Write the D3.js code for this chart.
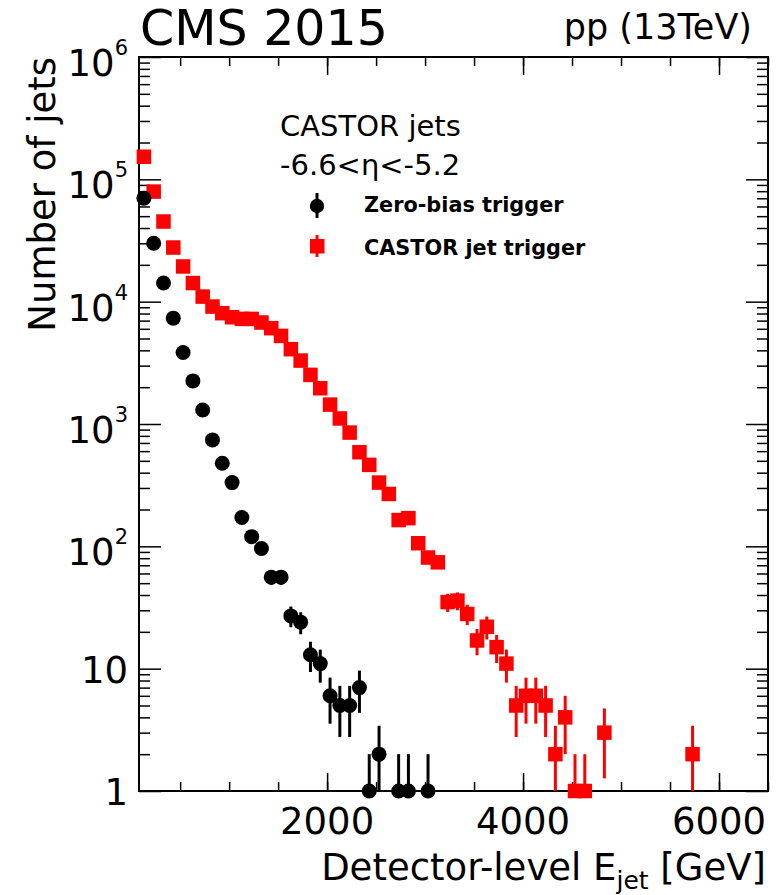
<!DOCTYPE html>
<html>
<head>
<meta charset="utf-8">
<script src="https://cdn.jsdelivr.net/npm/d3@7"></script>
<style>
body { margin: 0; background: #fff; }
svg { display: block; }
text { font-family: "DejaVu Sans", sans-serif; fill: #000; white-space: pre; }
</style>
</head>
<body>
<svg id="chart" width="783" height="895"></svg>
<script>
'use strict';

// zero-bias trigger: bin centres [GeV] and number of jets
var zbEnergy = [130, 230, 330, 430, 530, 630, 730, 830, 930, 1030, 1130, 1230, 1330, 1430, 1530,
	1630, 1730, 1830, 1930, 2030, 2130, 2230, 2330, 2430, 2530, 2730, 2830, 3030];
var zbCounts = [70200, 30000, 14200, 7330, 3840, 2250, 1300, 741, 478, 332, 172, 120, 96, 56, 56,
	27, 24, 13, 11, 6, 5, 5, 7, 1, 2, 1, 1, 1];

// CASTOR jet trigger
var ctEnergy = [130, 230, 330, 430, 530, 630, 730, 830, 930, 1030, 1130, 1230, 1330, 1430, 1530,
	1630, 1730, 1830, 1930, 2030, 2130, 2230, 2330, 2430, 2530, 2630, 2730, 2830, 2930, 3030,
	3130, 3230, 3330, 3430, 3530, 3630, 3730, 3830, 3930, 4030, 4130, 4230, 4330, 4430, 4530,
	4630, 4830, 5730];
var ctCounts = [153000, 79400, 45200, 27700, 19400, 14200, 11000, 9120, 8050, 7460, 7230, 7230, 6750, 6070, 5250,
	4090, 3300, 2520, 1960, 1440, 1110, 851, 588, 463, 332, 268, 164, 170, 106, 81,
	74, 35, 36, 28, 17, 22, 15, 11, 5, 6, 6, 5, 2, 4, 1,
	1, 3, 2];

var xTicks = [2000, 4000, 6000];
var xTickLabels = ['2000', '4000', '6000'];
var yTicks = [1, 10, 100, 1000, 10000, 100000, 1000000];
var yTickBase = ['1', '10', '10', '10', '10', '10', '10'];
var yTickExp = ['', '', '2', '3', '4', '5', '6'];

var padL = 139, padR = 768, padT = 57, padB = 791;

var svg = d3.select('#chart');

var x = d3.scaleLinear().domain([80, 6500]).range([padL, padR]);
var y = d3.scaleLog().domain([1, 1e6]).range([padB, padT]);

var xMinor = d3.range(500, 6501, 500);
var yMinor = [];
for (var d = 0; d < 6; d++) {
	for (var k = 2; k <= 9; k++) yMinor.push(k * Math.pow(10, d));
}

function drawAxis(axis, tx, ty) {
	var g = svg.append('g').attr('transform', 'translate(' + tx + ',' + ty + ')').call(axis);
	g.select('.domain').remove();
	g.selectAll('line').attr('stroke', '#000').attr('stroke-width', 1.5);
	g.selectAll('text').remove();
}

// ticks point inward on all four sides
drawAxis(d3.axisBottom(x).tickValues(xMinor).tickSize(-9), 0, padB);
drawAxis(d3.axisBottom(x).tickValues(xTicks).tickSize(-18), 0, padB);
drawAxis(d3.axisTop(x).tickValues(xMinor).tickSize(-9), 0, padT);
drawAxis(d3.axisTop(x).tickValues(xTicks).tickSize(-18), 0, padT);
drawAxis(d3.axisLeft(y).tickValues(yMinor).tickSize(-11), padL, 0);
drawAxis(d3.axisLeft(y).tickValues(yTicks).tickSize(-22), padL, 0);
drawAxis(d3.axisRight(y).tickValues(yMinor).tickSize(-11), padR, 0);
drawAxis(d3.axisRight(y).tickValues(yTicks).tickSize(-22), padR, 0);

svg.append('rect')
	.attr('x', padL).attr('y', padT)
	.attr('width', padR - padL).attr('height', padB - padT)
	.attr('fill', 'none').attr('stroke', '#000').attr('stroke-width', 2);

// tick labels
xTicks.forEach(function(v, i) {
	svg.append('text')
		.attr('x', x(v)).attr('y', 834)
		.attr('text-anchor', 'middle').attr('font-size', 37)
		.text(xTickLabels[i]);
});

yTicks.forEach(function(v, i) {
	var t = svg.append('text')
		.attr('x', 128)
		.attr('y', y(v) + (yTickExp[i] ? 19 : 14))
		.attr('text-anchor', 'end');
	t.append('tspan').attr('font-size', 37).text(yTickBase[i]);
	if (yTickExp[i]) {
		t.append('tspan').attr('font-size', 21).attr('dy', -21).text(yTickExp[i]);
	}
});

// axis titles
svg.append('text')
	.attr('transform', 'translate(55,' + padT + ') rotate(-90)')
	.attr('text-anchor', 'end').attr('font-size', 37)
	.text('Number of jets');

var xt = svg.append('text')
	.attr('x', 766).attr('y', 880)
	.attr('text-anchor', 'end').attr('font-size', 37);
xt.append('tspan').text('Detector-level E');
xt.append('tspan').attr('font-size', 25).attr('dy', 9).text('jet');
xt.append('tspan').attr('dy', -9).text(' [GeV]');

// header
svg.append('text').attr('x', 140).attr('y', 45).attr('font-size', 49).text('CMS 2015');
svg.append('text').attr('x', 752).attr('y', 39).attr('text-anchor', 'end').attr('font-size', 35).text('pp (13TeV)');

// data
function series(energy, counts) {
	return energy.map(function(e, i) { return { e: e, n: counts[i] }; });
}

function drawErrors(data, color) {
	svg.append('g').selectAll('line').data(data).join('line')
		.attr('x1', function(p) { return x(p.e); })
		.attr('x2', function(p) { return x(p.e); })
		.attr('y1', function(p) {
			var lo = p.n - Math.sqrt(p.n);
			return lo > 1 ? y(lo) : padB;
		})
		.attr('y2', function(p) { return y(p.n + Math.sqrt(p.n)); })
		.attr('stroke', color).attr('stroke-width', 3);
}

var zb = series(zbEnergy, zbCounts);
var ct = series(ctEnergy, ctCounts);

drawErrors(ct, '#ff0000');
svg.append('g').selectAll('rect').data(ct).join('rect')
	.attr('x', function(p) { return x(p.e) - 7.25; })
	.attr('y', function(p) { return y(p.n) - 7.25; })
	.attr('width', 14.5).attr('height', 14.5)
	.attr('fill', '#ff0000');

drawErrors(zb, '#000');
svg.append('g').selectAll('circle').data(zb).join('circle')
	.attr('cx', function(p) { return x(p.e); })
	.attr('cy', function(p) { return y(p.n); })
	.attr('r', 7.5)
	.attr('fill', '#000');

// legend
svg.append('text').attr('x', 280).attr('y', 136).attr('font-size', 29).text('CASTOR jets');
svg.append('text').attr('x', 280).attr('y', 175).attr('font-size', 29).text('-6.6<η<-5.2');

svg.append('line').attr('x1', 317).attr('x2', 317).attr('y1', 193).attr('y2', 218)
	.attr('stroke', '#000').attr('stroke-width', 3);
svg.append('circle').attr('cx', 317).attr('cy', 206).attr('r', 7.2).attr('fill', '#000');
svg.append('text').attr('x', 364).attr('y', 212).attr('font-size', 20.8).attr('font-weight', 'bold')
	.text('Zero-bias trigger');

svg.append('line').attr('x1', 317).attr('x2', 317).attr('y1', 235).attr('y2', 257)
	.attr('stroke', '#ff0000').attr('stroke-width', 3);
svg.append('rect').attr('x', 310).attr('y', 239).attr('width', 14.5).attr('height', 14.5).attr('fill', '#ff0000');
svg.append('text').attr('x', 364).attr('y', 255).attr('font-size', 20.8).attr('font-weight', 'bold')
	.text('CASTOR jet trigger');
</script>
</body>
</html>
